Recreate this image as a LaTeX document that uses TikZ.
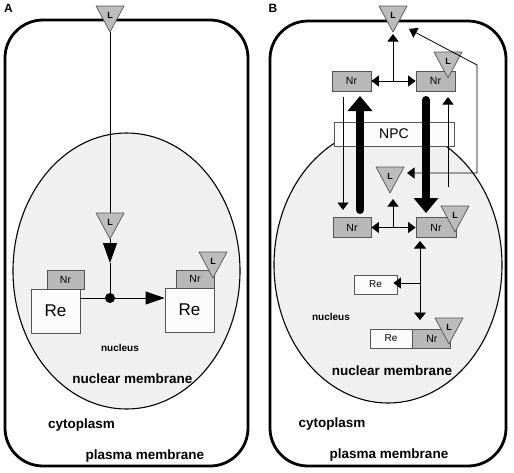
\documentclass[tikz,border=0pt]{standalone}
\usepackage{fontspec}
\setmainfont{Liberation Sans}
\usetikzlibrary{arrows.meta}
\definecolor{nucfill}{RGB}{240,240,240}
\definecolor{nrfill}{RGB}{184,184,184}
\definecolor{trifill}{RGB}{188,188,188}
\definecolor{bordergray}{RGB}{85,85,85}
\definecolor{refill}{RGB}{252,252,252}
\tikzset{
  cell/.style={line width=2.8pt, rounded corners=38pt},
  nucleusshape/.style={draw=black, line width=1.1pt, fill=nucfill},
  tri/.style={draw=bordergray, line width=0.7pt, fill=trifill, line join=round},
  ltext/.style={inner sep=0pt, font=\fontsize{9}{10}\selectfont\bfseries},
  nrbox/.style={draw=bordergray, line width=0.8pt, fill=nrfill, inner sep=0pt, font=\fontsize{10.5}{11}\selectfont},
  rebox/.style={draw=bordergray, line width=0.8pt, fill=refill, inner sep=0pt},
  conn/.style={draw=black, line width=0.8pt},
  smalltip/.style={-{Triangle[length=7.5pt,width=11pt]}},
  bigtip/.style={-{Triangle[length=15pt,width=24pt]}},
  thickarrow/.style={draw=black, line width=8pt, line cap=round, bigtip},
  lbl/.style={inner sep=0pt, font=\fontsize{13.5}{15}\selectfont\bfseries},
  smlbl/.style={inner sep=0pt, font=\fontsize{10}{11}\selectfont\bfseries},
  panel/.style={inner sep=0pt, font=\fontsize{12}{13}\selectfont\bfseries}
}
\newcommand\ligand[3]{%
  \coordinate (#1-apex) at (#2,#3);
  \coordinate (#1-top) at (#2,#3-26);
  \draw[tri] (#2-14,#3-26) -- (#2+14,#3-26) -- (#2,#3) -- cycle;
  \node[ltext] (#1) at (#2,#3-17) {L};}
\begin{document}
\begin{tikzpicture}[x=1pt,y=-1pt]
\useasboundingbox (0,0) rectangle (514,472);

% ---------------- Panel A ----------------
\node[panel] (labA) at (8.5,8.5) {A};
\draw[cell] (5,20) rectangle (248,466);
\draw[nucleusshape] (126.5,271) ellipse [x radius=113.5pt, y radius=138pt];

\node[rebox, minimum width=49pt, minimum height=44pt, font=\fontsize{17}{18}\selectfont] (reA1) at (55.5,311) {Re};
\node[nrbox, minimum width=37pt, minimum height=19pt] (nrA1) at (65.5,279.5) {Nr};
\node[rebox, minimum width=49pt, minimum height=44pt, font=\fontsize{17}{18}\selectfont] (reA2) at (189.5,310) {Re};
\node[nrbox, minimum width=38pt, minimum height=18pt] (nrA2) at (195,279) {Nr};

\coordinate (dotA) at (110,298);
\coordinate (midA) at (110,263);

\draw[conn] (110,32) -- (110,213);
\ligand{LA1}{110}{32}
\ligand{LA2}{110}{239}
\ligand{LA3}{213}{278}

\draw[conn, -{Triangle[length=20pt,width=14pt]}] (LA2-apex) -- (midA);
\draw[conn] (midA) -- (dotA);
\draw[conn] (reA1.east |- dotA) -- (dotA);
\draw[conn, -{Triangle[length=19pt,width=13pt]}] (dotA) -- (reA2.west |- dotA);
\fill[black] (dotA) circle (5pt);

\node[smlbl] (nucA) at (120,348) {nucleus};
\node[lbl] (nmA) at (132.5,379) {nuclear membrane};
\node[lbl] (cytA) at (81.5,425) {cytoplasm};
\node[lbl] (pmA) at (145,456) {plasma membrane};

% ---------------- Panel B ----------------
\node[panel] (labB) at (273,8.5) {B};
\draw[cell] (270,21) rectangle (506,466);
\draw[nucleusshape] (388,265) ellipse [x radius=114pt, y radius=138pt];

\node[rebox, minimum width=120pt, minimum height=24pt, font=\fontsize{14}{15}\selectfont] (npc) at (394,134) {NPC};

\node[nrbox, minimum width=39pt, minimum height=20pt] (nrB1) at (351.5,81) {Nr};
\node[nrbox, minimum width=39pt, minimum height=20pt] (nrB2) at (435.5,81) {Nr};
\node[nrbox, minimum width=38pt, minimum height=20pt] (nrB3) at (352,227.5) {Nr};
\node[nrbox, minimum width=40pt, minimum height=20pt] (nrB4) at (436,227.5) {Nr};
\node[rebox, minimum width=43pt, minimum height=19pt, font=\fontsize{10}{11}\selectfont] (reB1) at (375.5,284.5) {Re};
\node[rebox, minimum width=42pt, minimum height=19pt, font=\fontsize{10}{11}\selectfont] (reB2) at (391,338.5) {Re};
\node[nrbox, minimum width=38pt, minimum height=19pt, anchor=west] (nrB5) at (reB2.east) {Nr};

\ligand{LB1}{393}{32}
\ligand{LB2}{448}{78}
\ligand{LB3}{390}{193}
\ligand{LB4}{455}{232}
\ligand{LB5}{449}{344}

% top double arrow and up arrow
\coordinate (jB1) at (393,81);
\draw[conn, {Triangle[length=7.5pt,width=11pt]}-{Triangle[length=7.5pt,width=11pt]}] (nrB1.east) -- (nrB2.west);
\draw[conn, smalltip, shorten >=2pt] (jB1) -- (LB1-apex);

% lower double arrow and up arrow
\coordinate (jB2) at (393,227.5);
\draw[conn, {Triangle[length=7.5pt,width=11pt]}-{Triangle[length=7.5pt,width=11pt]}] (nrB3.east) -- (nrB4.west);
\draw[conn, smalltip] (jB2) -- (393,199);

% export / import arrows
\coordinate (tdS) at (343,97);  \coordinate (tdE) at (343,210);
\coordinate (TuS) at (360,210); \coordinate (TuE) at (360,96);
\coordinate (TdS) at (426,100); \coordinate (TdE) at (426,213);
\coordinate (tuS) at (448,187); \coordinate (tuE) at (448,97);
\draw[conn, smalltip] (tdS) -- (tdE);
\draw[conn, smalltip] (tuS) -- (tuE);
\draw[thickarrow] (TuS) -- (TuE);
\draw[thickarrow] (TdS) -- (TdE);

% side loop
\coordinate (sTip) at (409,29);
\coordinate (sC1) at (477,65);
\coordinate (sC2) at (477,173);
\coordinate (sTip2) at (407,173);
\draw[conn, {Triangle[length=8pt,width=11pt]}-{Triangle[length=7.5pt,width=11pt]}] (sTip) -- (sC1) -- (sC2) -- (sTip2);

% lower vertical arrows
\coordinate (vT) at (420,241);
\coordinate (vB) at (420,320);
\coordinate (vJ) at (420,283);
\draw[conn, {Triangle[length=7.5pt,width=12pt]}-{Triangle[length=7.5pt,width=12pt]}] (vT) -- (vB);
\draw[conn, smalltip] (vJ) -- ([xshift=-4pt]reB1.east |- vJ);

\node[smlbl] (nucB) at (331,317) {nucleus};
\node[lbl] (nmB) at (392,371) {nuclear membrane};
\node[lbl] (cytB) at (332,424) {cytoplasm};
\node[lbl] (pmB) at (389,455) {plasma membrane};
\end{tikzpicture}
\end{document}
